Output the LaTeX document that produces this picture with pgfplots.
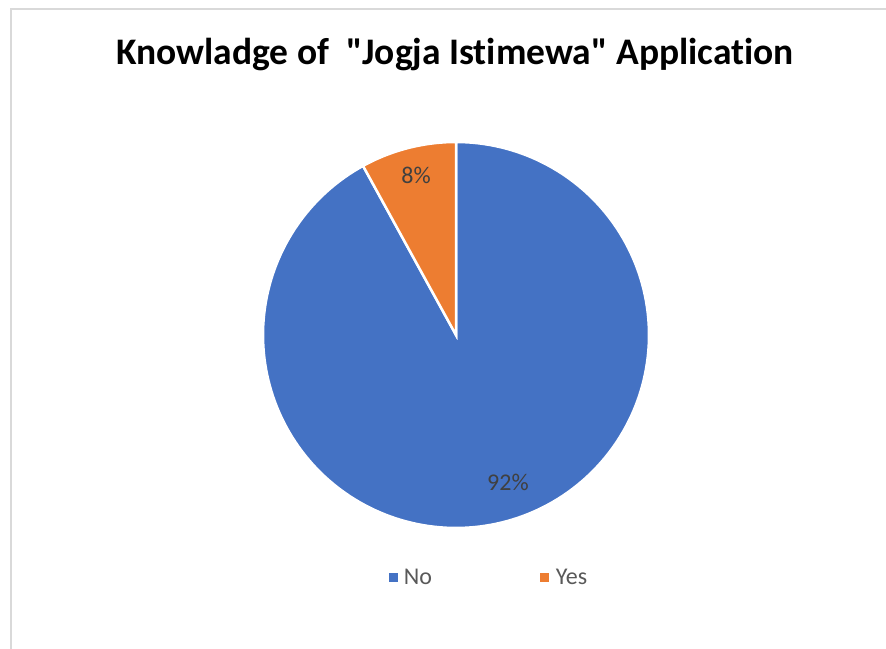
\documentclass[border=0pt]{standalone}
\usepackage{pgfplots}
\usepackage{pgfplotstable}
\pgfplotsset{compat=1.18}
\usepackage{fontspec}
\setmainfont{Carlito}[Ligatures={NoCommon}]
\newfontfamily\titlefont{Carlito}[Ligatures={NoCommon}]
\definecolor{pieblue}{HTML}{4472C4}
\definecolor{pieorange}{HTML}{ED7D31}
\definecolor{labgray}{HTML}{404040}
\definecolor{leggray}{HTML}{595959}
\definecolor{bordergray}{HTML}{D9D9D9}

\pgfplotstableread{
label value
No 92
Yes 8
}\piedata
\pgfplotstablegetelem{0}{value}\of\piedata \let\vNo\pgfplotsretval
\pgfplotstablegetelem{1}{value}\of\piedata \let\vYes\pgfplotsretval
\pgfmathsetmacro\aNo{90-3.6*\vNo}
\pgfmathsetmacro\aYes{\aNo-3.6*\vYes}

\begin{document}
\begin{tikzpicture}
\useasboundingbox (0,0) rectangle (886pt,648pt);
\fill[white] (0,0) rectangle (886pt,648pt);
\draw[bordergray, line width=1.2pt] (11pt,-5pt) -- (11pt,639pt) -- (890pt,639pt);
\node[font=\titlefont\bfseries\fontsize{37.5}{44}\selectfont, text=black] at (455pt,593pt) {Knowladge of \ "Jogja Istimewa" Application};
\begin{axis}[
  at={(456pt,313pt)}, anchor=center,
  scale only axis, width=386pt, height=386pt,
  xmin=-1, xmax=1, ymin=-1, ymax=1,
  hide axis, clip=false,
  legend style={at={(axis cs:-0.365,-1.259)}, anchor=west, draw=none, fill=none,
    font=\fontsize{24}{28}\selectfont, text=leggray, legend columns=2,
    /tikz/every even column/.append style={column sep=106pt},
    legend cell align=left},
]
\addplot[fill=pieblue, draw=white, line width=2.5pt, mark=none, domain=\aNo:90, samples=200, variable=\t,
  legend image code/.code={\fill[pieblue, draw=none] (0pt,-4.5pt) rectangle (9pt,5pt);}]
  ({cos(\t)},{sin(\t)}) -- (axis cs:0,0) -- cycle;
\addlegendentry{\hspace{4pt}No}
\addplot[fill=pieorange, draw=white, line width=2.5pt, mark=none, domain=-270:\aNo, samples=40, variable=\t,
  legend image code/.code={\fill[pieorange, draw=none] (0pt,-4.5pt) rectangle (9pt,5pt);}]
  ({cos(\t)},{sin(\t)}) -- (axis cs:0,0) -- cycle;
\addlegendentry{\hspace{5pt}Yes}
\node[text=labgray, font=\fontsize{24}{28}\selectfont] at (axis cs:-0.207,0.829) {8\%};
\node[text=labgray, font=\fontsize{24}{28}\selectfont] at (axis cs:0.269,-0.762) {92\%};
\end{axis}
\end{tikzpicture}
\end{document}
